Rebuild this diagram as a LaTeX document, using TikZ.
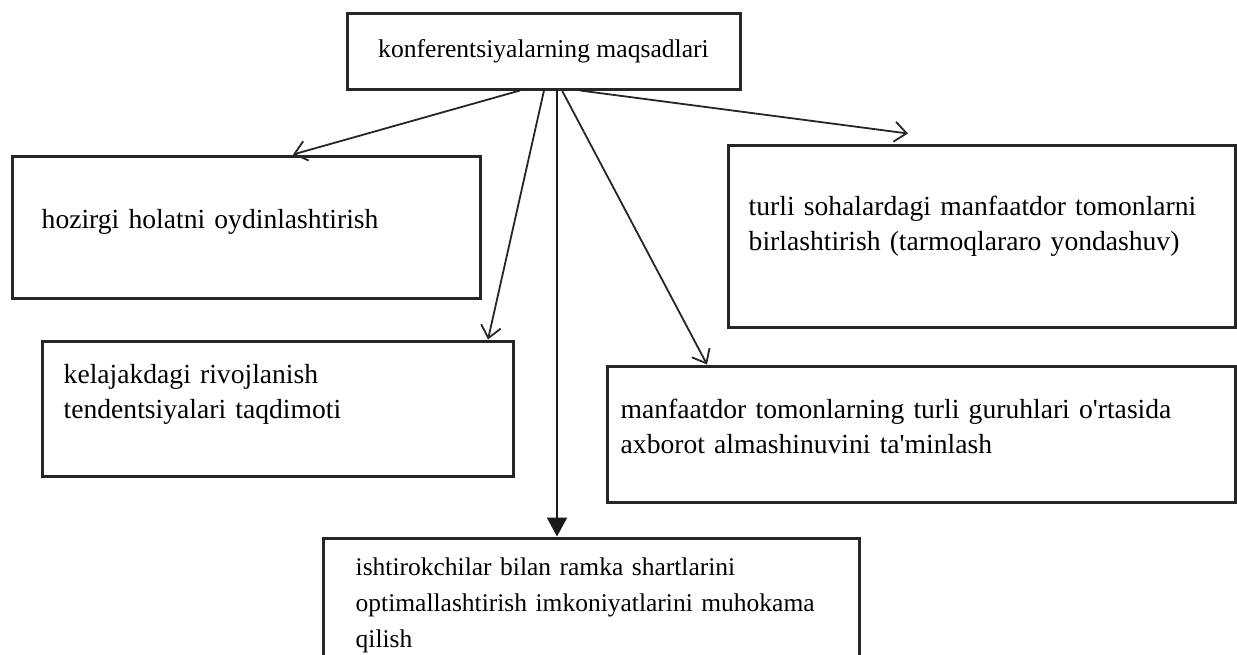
\documentclass[tikz,border=0pt]{standalone}
\usepackage{fontspec}
\setmainfont{Liberation Serif}
\usetikzlibrary{arrows.meta}

\begin{document}
\begin{tikzpicture}[x=1pt, y=-1pt,
    goalbox/.style={draw=black!85, line width=3pt},
    goaltext/.style={inner sep=0pt, anchor=base west, align=left, font=\fontsize{27.6}{35}\selectfont},
    link/.style={draw=black!85, line width=1.8pt, -{Straight Barb[length=12pt, width=20pt, line width=1.8pt]}},
    mainlink/.style={draw=black!90, line width=2pt, -{Triangle[length=19pt, width=20pt]}}]
    \clip (0,0) rectangle (1237,654);

    % Top box
    \node[goalbox, minimum width=393pt, minimum height=76pt, font=\fontsize{25.6}{32}\selectfont] (goal0) at (543.5,51) {konferentsiyalarning maqsadlari};

    % Left column
    \node[goalbox, minimum width=468pt, minimum height=142pt] (goal1) at (246,227) {};
    \node[goaltext, text width=420pt] (text1) at ([xshift=31pt, yshift=-74pt]goal1.north west) {hozirgi holatni oydinlashtirish};

    \node[goalbox, minimum width=471pt, minimum height=135pt] (goal2) at (277.5,408.5) {};
    \node[goaltext, text width=420pt] (text2) at ([xshift=23pt, yshift=-44pt]goal2.north west) {kelajakdagi rivojlanish\\tendentsiyalari taqdimoti};

    % Right column
    \node[goalbox, minimum width=507pt, minimum height=182pt] (goal3) at (981.5,236) {};
    \node[goaltext, text width=480pt] (text3) at ([xshift=22pt, yshift=-72pt]goal3.north west) {turli sohalardagi manfaatdor tomonlarni\\birlashtirish (tarmoqlararo yondashuv)};

    \node[goalbox, minimum width=628pt, minimum height=136pt] (goal4) at (921,434) {};
    \node[goaltext, text width=600pt] (text4) at ([xshift=15pt, yshift=-54pt]goal4.north west) {manfaatdor tomonlarning turli guruhlari o\textquotesingle rtasida\\axborot almashinuvini ta\textquotesingle minlash};

    % Bottom box
    \node[goalbox, minimum width=536pt, minimum height=160pt] (goal5) at (591,618) {};
    \node[goaltext, text width=500pt, font=\fontsize{25.5}{36}\selectfont] (text5) at ([xshift=34pt, yshift=-39pt]goal5.north west) {ishtirokchilar bilan ramka shartlarini\\optimallashtirish imkoniyatlarini muhokama\\qilish};

    % Connectors
    \draw[link] ([xshift=-23.5pt]goal0.south) -- ([xshift=47pt]goal1.north);
    \draw[link] ([xshift=0.5pt]goal0.south) -- ([xshift=210.5pt]goal2.north);
    \draw[mainlink] ([xshift=13.5pt]goal0.south) -- ([xshift=-34pt]goal5.north);
    \draw[link] ([xshift=18.5pt]goal0.south) -- ([xshift=-214pt]goal4.north);
    \draw[link] ([xshift=36.5pt]goal0.south) -- ([xshift=-73.5pt, yshift=10pt]goal3.north);
\end{tikzpicture}
\end{document}
